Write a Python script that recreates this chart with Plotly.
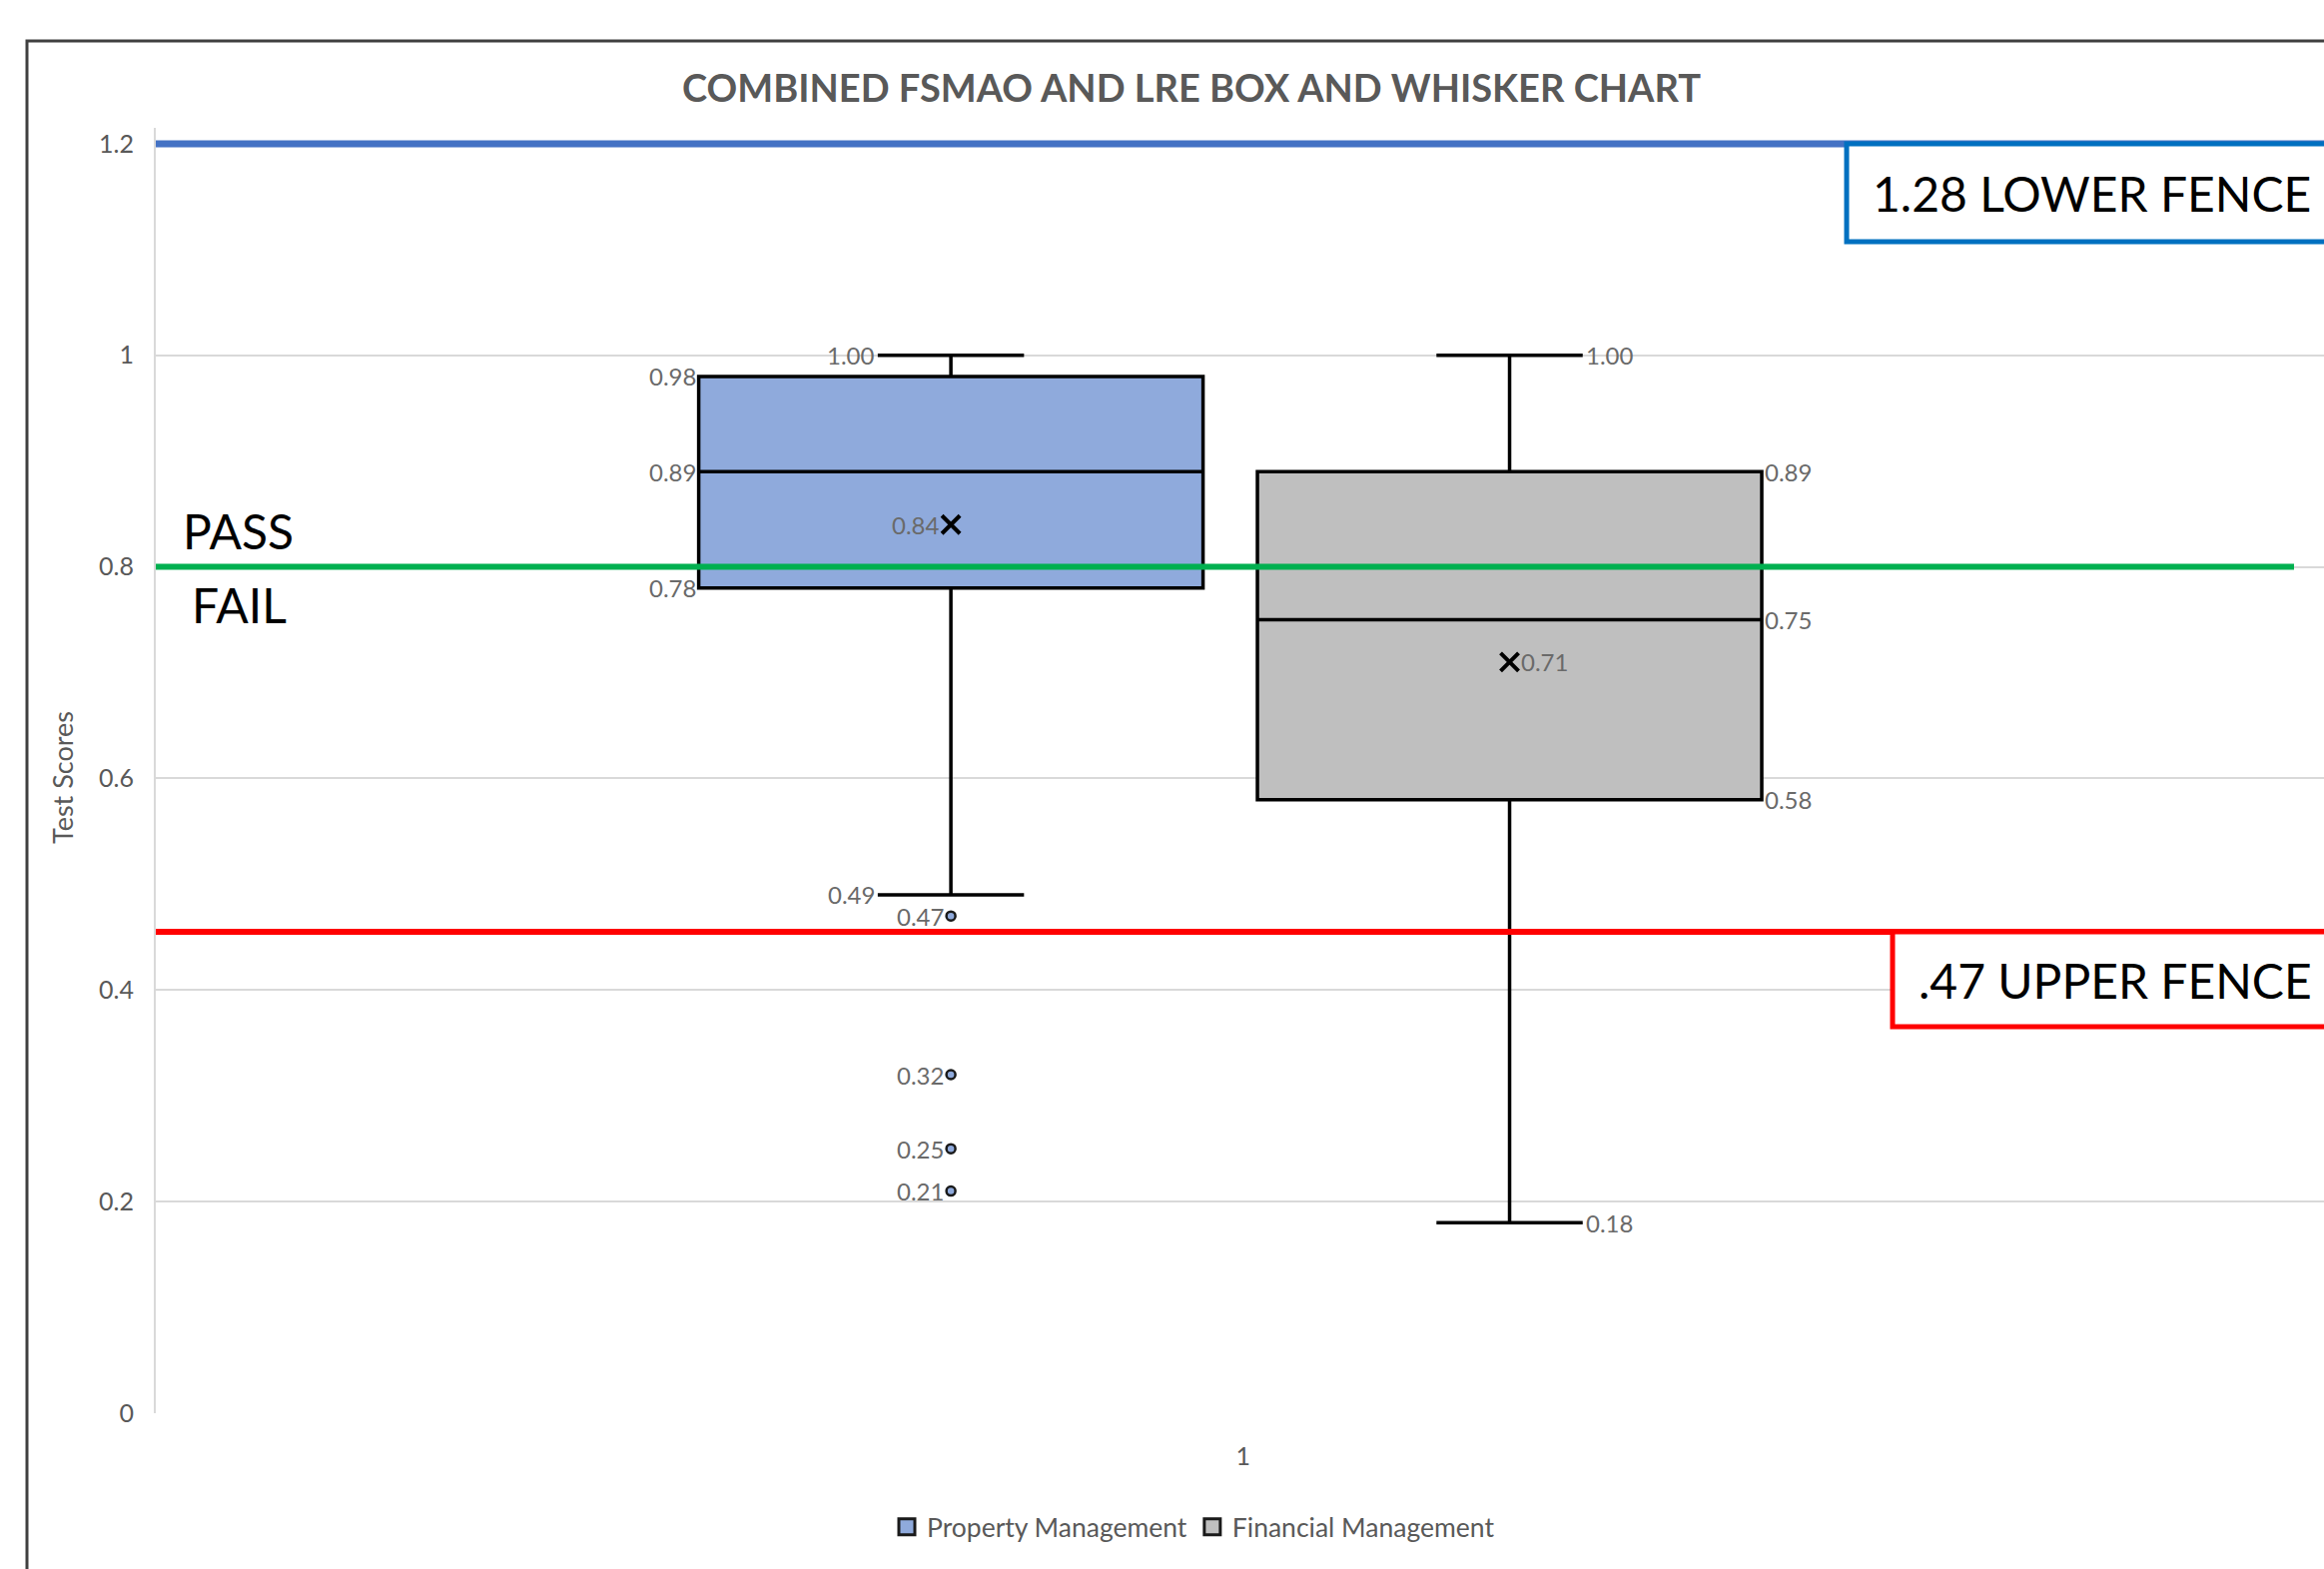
import plotly.graph_objects as go

# ---------------- data ----------------
categories = ["1"]
series_names = ["Property Management", "Financial Management"]
series_colors = ["#8FAADC", "#BFBFBF"]
lower_whisker = [0.49, 0.18]
q1_vals = [0.78, 0.58]
medians = [0.89, 0.75]
q3_vals = [0.98, 0.89]
upper_whisker = [1.00, 1.00]
means = [0.84, 0.71]
outliers = [[0.47, 0.32, 0.25, 0.21], []]
y_ticks = [0, 0.2, 0.4, 0.6, 0.8, 1.0, 1.2]
y_tick_labels = ["0", "0.2", "0.4", "0.6", "0.8", "1", "1.2"]
pass_mark = 0.8
lower_fence_line = 1.2
upper_fence_line = 0.455
lower_fence_label = "1.28 LOWER FENCE"
upper_fence_label = ".47 UPPER FENCE"
title_text = "COMBINED FSMAO AND LRE BOX AND WHISKER CHART"
y_title = "Test Scores"

# ---------------- geometry ----------------
W, H = 2327, 1571
ML, MR, MT, MB = 156, 0, 128, 156
X_RANGE = [-0.5, 0.509]
Y_RANGE = [0, 1.215]
PW = W - ML - MR
PH = H - MT - MB


def xd(px):
    return X_RANGE[0] + (px - ML) / PW * (X_RANGE[1] - X_RANGE[0])


def yd(py):
    return Y_RANGE[0] + (H - MB - py) / PH * (Y_RANGE[1] - Y_RANGE[0])


def xp(px):
    return (px - ML) / PW


def yp(py):
    return (H - MB - py) / PH


BOX_OFFSET = 0.13
BOX_WIDTH = 0.2347
WHISKER_W = 0.29
offsets = [-BOX_OFFSET, BOX_OFFSET]
FONT = "Lato"
GRAY = "#595959"
LABEL_GRAY = "#6a6a6a"

fig = go.Figure()

for i, name in enumerate(series_names):
    fig.add_trace(go.Box(
        name=name, x=[offsets[i]],
        q1=[q1_vals[i]], median=[medians[i]], q3=[q3_vals[i]],
        lowerfence=[lower_whisker[i]], upperfence=[upper_whisker[i]],
        width=BOX_WIDTH, whiskerwidth=WHISKER_W,
        fillcolor=series_colors[i], line=dict(color="black", width=3.5),
        boxpoints=False, hoverinfo="skip", showlegend=False,
    ))

for i, name in enumerate(series_names):
    # mean marker
    fig.add_trace(go.Scatter(
        x=[offsets[i]], y=[means[i]], mode="markers", showlegend=False,
        marker=dict(symbol="x-thin", size=18, line=dict(width=4, color="black")),
        hoverinfo="skip",
    ))
    if outliers[i]:
        fig.add_trace(go.Scatter(
            x=[offsets[i]] * len(outliers[i]), y=outliers[i], mode="markers",
            showlegend=False, hoverinfo="skip",
            marker=dict(symbol="circle", size=9, color=series_colors[i],
                        line=dict(width=2.5, color="#1a1a1a")),
        ))

# legend entries (square swatches like the original)
for i, name in enumerate(series_names):
    fig.add_trace(go.Scatter(
        x=[None], y=[None], mode="markers", name=name, showlegend=True,
        marker=dict(symbol="square", size=16, color=series_colors[i],
                    line=dict(width=3, color="#1a1a1a")),
    ))

# data labels
annotations = []


def add_label(x, y, side, xshift=0):
    annotations.append(dict(
        x=x, y=y, xref="x", yref="y", text=f"{y:.2f}", showarrow=False,
        xanchor="right" if side < 0 else "left", yanchor="middle",
        xshift=xshift, font=dict(family=FONT, size=24, color=LABEL_GRAY),
    ))


for i in range(len(series_names)):
    side = -1 if i == 0 else 1
    c = offsets[i]
    edge = c + side * BOX_WIDTH / 2
    cap = c + side * BOX_WIDTH * WHISKER_W / 2
    for v in (q1_vals[i], medians[i], q3_vals[i]):
        add_label(edge, v, side, side * 1)
    for v in (lower_whisker[i], upper_whisker[i]):
        add_label(cap, v, side, side * 1)
    add_label(c, means[i], side, side * 9)
    for v in outliers[i]:
        add_label(c, v, side, side * 5)

# reference lines and boxes
shapes = [
    dict(type="rect", xref="paper", yref="paper", x0=xp(27), x1=xp(2500),
         y0=yp(1800), y1=yp(41), line=dict(color="#404040", width=3),
         fillcolor="rgba(0,0,0,0)", layer="below"),
    dict(type="line", xref="x", yref="y", x0=X_RANGE[0], x1=X_RANGE[1] + 0.1,
         y0=lower_fence_line, y1=lower_fence_line, line=dict(color="#4472C4", width=7)),
    dict(type="line", xref="x", yref="y", x0=X_RANGE[0], x1=xd(2297),
         y0=pass_mark, y1=pass_mark, line=dict(color="#00B050", width=6)),
    dict(type="line", xref="x", yref="y", x0=X_RANGE[0], x1=X_RANGE[1] + 0.1,
         y0=upper_fence_line, y1=upper_fence_line, line=dict(color="#FF0000", width=6)),
    dict(type="rect", xref="x", yref="y", x0=xd(1849), x1=X_RANGE[1] + 0.1,
         y0=yd(242), y1=lower_fence_line, line=dict(color="#0070C0", width=5),
         fillcolor="white"),
    dict(type="rect", xref="x", yref="y", x0=xd(1895), x1=X_RANGE[1] + 0.1,
         y0=yd(1028), y1=upper_fence_line, line=dict(color="#FF0000", width=5),
         fillcolor="white"),
]

big_font = dict(family=FONT, size=48, color="black")
annotations += [
    dict(x=xd(1873), y=yd(193), xref="x", yref="y", text=lower_fence_label,
         showarrow=False, xanchor="left", yanchor="middle", font=big_font),
    dict(x=xd(1919), y=yd(981), xref="x", yref="y", text=upper_fence_label,
         showarrow=False, xanchor="left", yanchor="middle", font=big_font),
    dict(x=xd(181), y=yd(531), xref="x", yref="y", text="PASS",
         showarrow=False, xanchor="left", yanchor="middle", font=big_font),
    dict(x=xd(190), y=yd(605), xref="x", yref="y", text="FAIL",
         showarrow=False, xanchor="left", yanchor="middle", font=big_font),
    dict(x=xp(62), y=yp(779), xref="paper", yref="paper", text=y_title,
         textangle=-90, showarrow=False, xanchor="center", yanchor="middle",
         font=dict(family=FONT, size=27, color=GRAY)),
]

fig.update_layout(
    width=W, height=H,
    margin=dict(l=ML, r=MR, t=MT, b=MB, autoexpand=False),
    paper_bgcolor="white", plot_bgcolor="white",
    title=dict(text=title_text, x=1193 / W, xref="container", xanchor="center",
               y=1 - 89 / H, yref="container", yanchor="middle",
               font=dict(family=FONT, size=38, color=GRAY, weight="bold")),
    showlegend=True,
    legend=dict(orientation="h", x=xp(1195), y=yp(1529), xanchor="center",
                yanchor="middle", font=dict(family=FONT, size=26.5, color=GRAY),
                bgcolor="rgba(0,0,0,0)", itemsizing="trace"),
    xaxis=dict(range=X_RANGE, tickvals=[0], ticktext=categories, showgrid=False,
               zeroline=False, showline=False, fixedrange=True,
               tickfont=dict(family=FONT, size=25, color=GRAY),
               ticklabelstandoff=26, ticklabelshift=13),
    yaxis=dict(range=Y_RANGE, tickvals=y_ticks, ticktext=y_tick_labels,
               showgrid=True, gridcolor="#D9D9D9", gridwidth=2,
               zeroline=False, showline=True, linecolor="#D9D9D9", linewidth=2,
               tickfont=dict(family=FONT, size=25, color=GRAY),
               ticklabelstandoff=15),
    shapes=shapes,
    annotations=annotations,
)

fig.write_html(
    "out.html",
    config={"displayModeBar": False},
    post_script="document.body.style.margin='0';document.body.style.padding='0';",
)
